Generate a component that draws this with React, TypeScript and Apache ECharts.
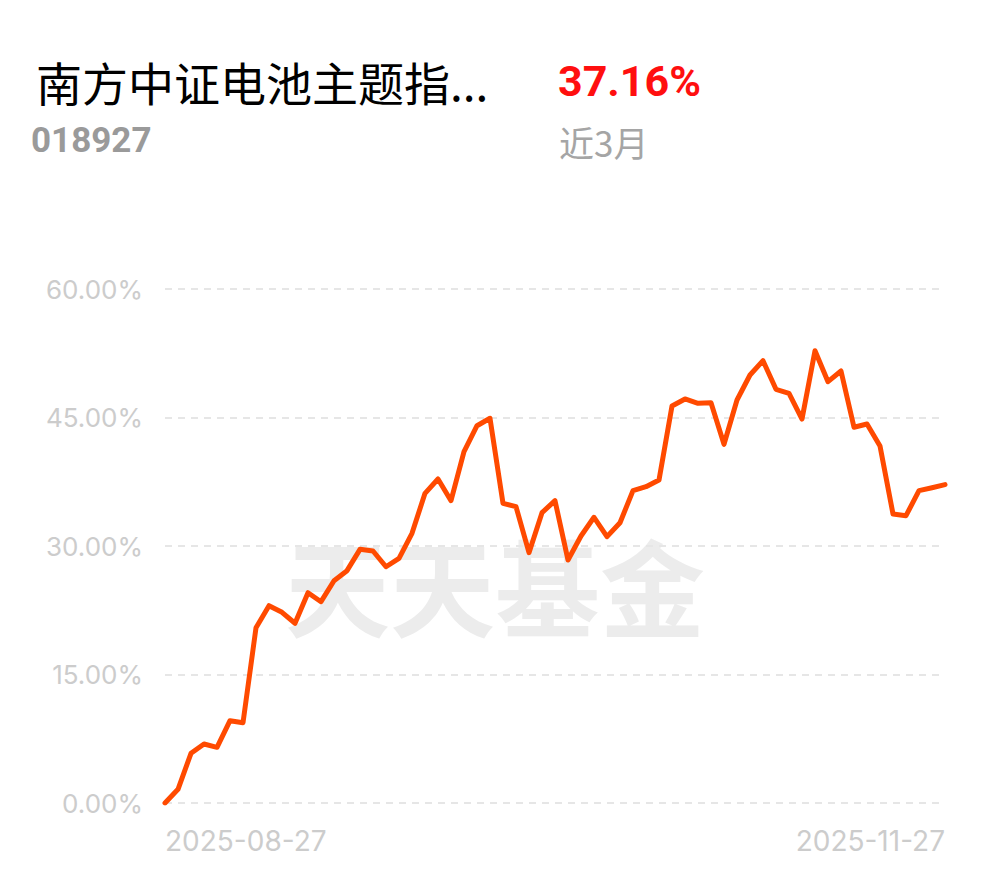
import React, { useEffect, useRef } from "react";
import * as echarts from "echarts";

const fundName = "南方中证电池主题指...";
const fundCode = "018927";
const periodReturn = "37.16%";
const periodLabel = "近3月";
const watermark = "天天基金";

const dates: string[] = [
  "2025-08-27", "2025-08-28", "2025-08-29",
  "2025-09-01", "2025-09-02", "2025-09-03", "2025-09-04", "2025-09-05",
  "2025-09-08", "2025-09-09", "2025-09-10", "2025-09-11", "2025-09-12",
  "2025-09-15", "2025-09-16", "2025-09-17", "2025-09-18", "2025-09-19",
  "2025-09-22", "2025-09-23", "2025-09-24", "2025-09-25", "2025-09-26",
  "2025-09-29", "2025-09-30",
  "2025-10-09", "2025-10-10",
  "2025-10-13", "2025-10-14", "2025-10-15", "2025-10-16", "2025-10-17",
  "2025-10-20", "2025-10-21", "2025-10-22", "2025-10-23", "2025-10-24",
  "2025-10-27", "2025-10-28", "2025-10-29", "2025-10-30", "2025-10-31",
  "2025-11-03", "2025-11-04", "2025-11-05", "2025-11-06", "2025-11-07",
  "2025-11-10", "2025-11-11", "2025-11-12", "2025-11-13", "2025-11-14",
  "2025-11-17", "2025-11-18", "2025-11-19", "2025-11-20", "2025-11-21",
  "2025-11-24", "2025-11-25", "2025-11-26", "2025-11-27",
];

const returns: number[] = [
  0, 1.6, 5.8, 6.89, 6.5, 9.61, 9.37, 20.46, 23.03, 22.26,
  20.98, 24.55, 23.5, 25.95, 27.12, 29.61, 29.42, 27.58, 28.56, 31.48,
  36.15, 37.82, 35.29, 41.01, 44.04, 44.91, 34.98, 34.59, 29.22, 33.89,
  35.29, 28.37, 31.17, 33.35, 31.09, 32.72, 36.46, 36.92, 37.7, 46.34,
  47.16, 46.66, 46.73, 41.87, 47.04, 49.96, 51.63, 48.29, 47.82, 44.82,
  52.8, 49.18, 50.43, 43.86, 44.24, 41.67, 33.74, 33.54, 36.46, 36.8,
  37.16,
];

const yTicks = { min: 0, max: 60, interval: 15 };

export default function App() {
  const ref = useRef<HTMLDivElement>(null);
  useEffect(() => {
    if (!ref.current) return;
    const chart = echarts.init(ref.current, undefined, { renderer: "svg" });
    const last = dates.length - 1;
    chart.setOption({
      animation: false,
      backgroundColor: "#ffffff",
      grid: { left: 165, right: 45, top: 289, bottom: 75, containLabel: false },
      graphic: [
        {
          type: "text",
          left: 36,
          top: 58,
          style: {
            text: fundName,
            fontSize: 46,
            fill: "#000000",
            fontFamily: "Noto Sans CJK SC",
          },
        },
        {
          type: "text",
          left: 31,
          top: 123,
          style: {
            text: fundCode,
            fontSize: 35,
            fontWeight: "bold",
            fill: "#9a9a9a",
            fontFamily: "Roboto",
          },
        },
        {
          type: "text",
          left: 558,
          top: 59,
          style: {
            text: periodReturn,
            fontSize: 43,
            fontWeight: "bold",
            fill: "#ff0f0f",
            fontFamily: "Roboto",
          },
        },
        {
          type: "text",
          left: 559,
          top: 124,
          style: {
            text: periodLabel,
            fontSize: 35,
            fill: "#a5a5a5",
            fontFamily: "Noto Sans CJK SC",
          },
        },
        {
          type: "text",
          left: 285,
          top: 530,
          z: -10,
          silent: true,
          style: {
            text: watermark,
            fontSize: 105,
            fontWeight: "bold",
            fill: "#ececec",
            fontFamily: "Noto Sans CJK SC",
          },
        },
      ],
      xAxis: {
        type: "category",
        data: dates,
        boundaryGap: false,
        axisLine: { show: false },
        axisTick: { show: false },
        splitLine: { show: false },
        axisLabel: {
          interval: (i: number) => i === 0 || i === last,
          color: "#cccccc",
          fontSize: 28,
          fontFamily: "Inter",
          margin: 24,
          alignMinLabel: "left",
          alignMaxLabel: "right",
        },
      },
      yAxis: {
        type: "value",
        min: yTicks.min,
        max: yTicks.max,
        interval: yTicks.interval,
        axisLine: { show: false },
        axisTick: { show: false },
        axisLabel: {
          color: "#cccccc",
          fontSize: 26,
          fontFamily: "Inter",
          margin: 22,
          formatter: (v: number) => v.toFixed(2) + "%",
        },
        splitLine: {
          show: true,
          lineStyle: { color: "#e6e6e6", type: [7, 6], width: 2 },
        },
      },
      series: [
        {
          type: "line",
          data: returns,
          showSymbol: false,
          symbol: "none",
          lineStyle: { color: "#ff4a00", width: 5, join: "round", cap: "round" },
          z: 5,
        },
      ],
    });
    return () => chart.dispose();
  }, []);
  return <div ref={ref} style={{ width: 990, height: 878, position: "absolute", left: 0, top: 0 }} />;
}
